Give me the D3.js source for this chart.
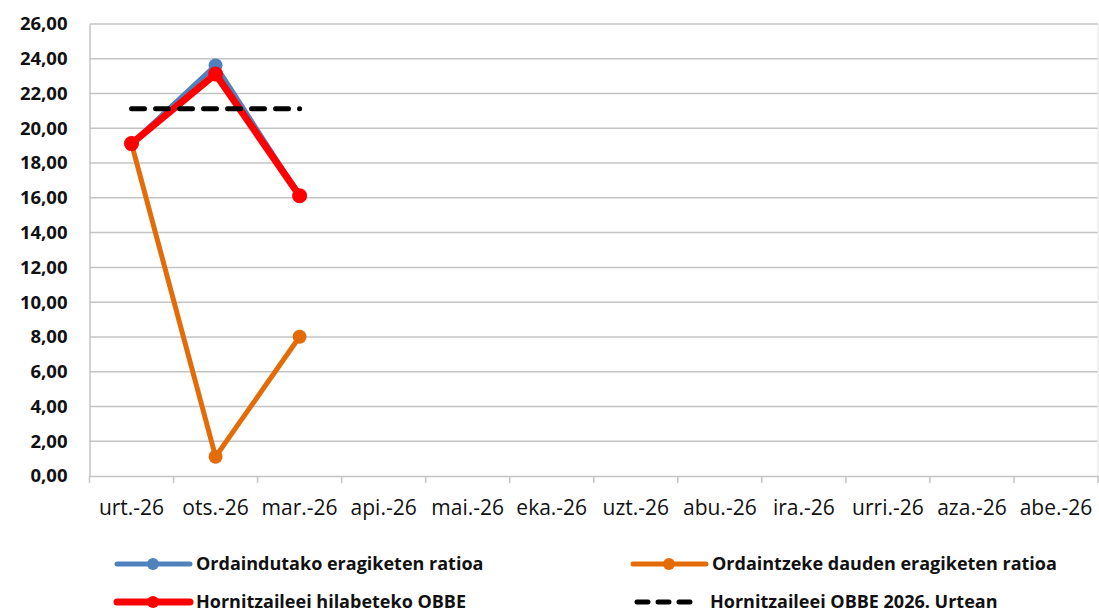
<!DOCTYPE html>
<html><head><meta charset="utf-8">
<script src="https://cdn.jsdelivr.net/npm/d3@7"></script>
<style>
body{margin:0;background:#fff;}
svg{display:block;}
</style></head>
<body>
<svg id="chart" width="1099" height="612"></svg>
<script>
const categories = ["urt.-26","ots.-26","mar.-26","api.-26","mai.-26","eka.-26","uzt.-26","abu.-26","ira.-26","urri.-26","aza.-26","abe.-26"];
const paidRatio = [19.12, 23.62, 16.12];
const pendingRatio = [19.12, 1.11, 8.01];
const monthlyPMP = [19.12, 23.12, 16.12];
const yearPMP = [21.12, 21.12, 21.12];
const yTicks = [0,2,4,6,8,10,12,14,16,18,20,22,24,26];

const seriesNames = ["Ordaindutako eragiketen ratioa","Ordaintzeke dauden eragiketen ratioa","Hornitzaileei hilabeteko OBBE","Hornitzaileei OBBE 2026. Urtean"];

const svg = d3.select("#chart");
const L = 89.5, R = 1098, T = 24, B = 476;
const x = d3.scaleBand().domain(categories).range([L, R]).padding(0);
const y = d3.scaleLinear().domain([0, 26]).range([B, T]);
const fmt = v => v.toFixed(2).replace(".", ",");
const font = "'Open Sans', 'Liberation Sans', Arial, sans-serif";

// gridlines
svg.append("g").selectAll("line").data(yTicks.filter(d => d > 0)).join("line")
  .attr("x1", L).attr("x2", R).attr("y1", d => y(d)).attr("y2", d => y(d))
  .attr("stroke", "#c4c4c4").attr("stroke-width", 1.5);
// right border
svg.append("line").attr("x1", R).attr("x2", R).attr("y1", T).attr("y2", B).attr("stroke", "#e4e4e4").attr("stroke-width", 1);

// y axis
const yAxis = d3.axisLeft(y).tickValues(yTicks).tickFormat(fmt).tickSize(0).tickPadding(22);
const gy = svg.append("g").attr("transform", `translate(${L},0)`).call(yAxis);
gy.select(".domain").attr("stroke", "#c4c4c4").attr("stroke-width", 1.5);
gy.selectAll("text").attr("font-family", font).attr("font-weight", "bold").attr("font-size", 18.5).attr("fill", "#111");

// x axis
const xAxis = d3.axisBottom(x).tickSize(0).tickPadding(24);
const gx = svg.append("g").attr("transform", `translate(0,${B})`).call(xAxis);
gx.select(".domain").attr("stroke", "#c4c4c4").attr("stroke-width", 1.5);
gx.selectAll("text").attr("font-family", font).attr("font-size", 21).attr("fill", "#111");
// boundary ticks
svg.append("g").selectAll("line").data(d3.range(categories.length + 1)).join("line")
  .attr("x1", i => L + i * x.bandwidth()).attr("x2", i => L + i * x.bandwidth())
  .attr("y1", B).attr("y2", B + 7).attr("stroke", "#c4c4c4").attr("stroke-width", 1.5);

const cx = (d, i) => x(categories[i]) + x.bandwidth() / 2;
const line = d3.line().x(cx).y(d => y(d));

function drawSeries(vals, color, width, r) {
  svg.append("path").datum(vals).attr("d", line).attr("fill", "none")
    .attr("stroke", color).attr("stroke-width", width).attr("stroke-linejoin", "round");
  svg.append("g").selectAll("circle").data(vals).join("circle")
    .attr("cx", cx).attr("cy", d => y(d)).attr("r", r).attr("fill", color);
}
drawSeries(paidRatio, "#4f81bd", 5, 7);
drawSeries(pendingRatio, "#e36c09", 5, 7);
drawSeries(monthlyPMP, "#ff0000", 7, 7.5);
svg.append("path").datum(yearPMP).attr("d", d3.line().x((d,i)=>cx(d,i)).y(d=>y(d)))
  .attr("fill", "none").attr("stroke", "#000").attr("stroke-width", 5)
  .attr("stroke-dasharray", "13,11").attr("stroke-linecap", "round");

// legend
const legend = [
  {name: seriesNames[0], color: "#4f81bd", w: 5, marker: true, dash: null, x: 117, y: 564, len: 73},
  {name: seriesNames[1], color: "#e36c09", w: 5, marker: true, dash: null, x: 633, y: 564, len: 73},
  {name: seriesNames[2], color: "#ff0000", w: 7, marker: true, dash: null, x: 117, y: 602, len: 73},
  {name: seriesNames[3], color: "#000", w: 5, marker: false, dash: "11,10", x: 637, y: 602, len: 60}
];
const lg = svg.append("g").selectAll("g").data(legend).join("g").attr("transform", d => `translate(${d.x},${d.y})`);
lg.append("line").attr("x1", 0).attr("x2", d => d.len).attr("y1", 0).attr("y2", 0)
  .attr("stroke", d => d.color).attr("stroke-width", d => d.w)
  .attr("stroke-dasharray", d => d.dash).attr("stroke-linecap", "round");
lg.filter(d => d.marker).append("circle").attr("cx", 36).attr("cy", 0).attr("r", 6).attr("fill", d => d.color);
lg.append("text").attr("x", d => d.marker ? 79 : 73).attr("y", 0).attr("dy", "0.36em").text(d => d.name)
  .attr("font-family", font).attr("font-weight", "bold").attr("font-size", 18).attr("fill", "#111");
</script>
</body></html>
